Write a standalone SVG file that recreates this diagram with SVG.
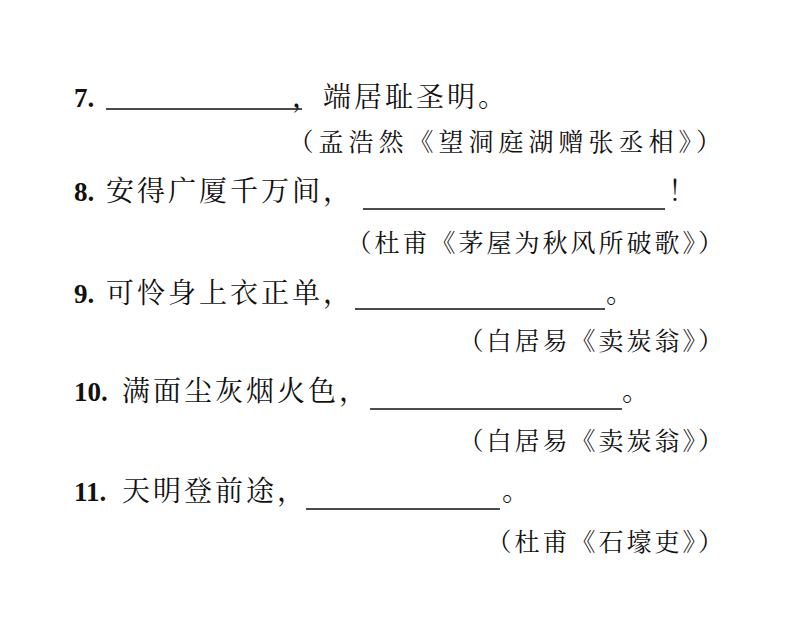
<svg xmlns="http://www.w3.org/2000/svg" width="794" height="644" viewBox="0 0 794 644">
<style>
text{font-family:"Liberation Serif","Noto Serif CJK SC","Noto Sans CJK SC",serif;font-size:28px;fill:#111}
.z{letter-spacing:3px}
.n{font-weight:bold;font-size:27px}
.c{text-anchor:end;font-size:25px;letter-spacing:3px}
line{stroke:#111;stroke-width:1.3}
</style>
<rect width="794" height="644" fill="#fff"/>
<g id="q7"><text class="n" x="74" y="107">7.</text><line x1="106" y1="109" x2="302" y2="109"/><text class="z" x="292" y="107">，端居耻圣明。</text><text class="c" x="726" y="151" style="letter-spacing:5px">（孟浩然《望洞庭湖赠张丞相》）</text></g>
<g id="q8"><text class="n" x="74" y="201">8.</text><text class="z" x="106" y="201">安得广厦千万间，</text><line x1="363" y1="209" x2="665" y2="209"/><text x="668" y="201">！</text><text class="c" x="726" y="252">（杜甫《茅屋为秋风所破歌》）</text></g>
<g id="q9"><text class="n" x="74" y="303">9.</text><text class="z" x="106" y="303">可怜身上衣正单，</text><line x1="355" y1="309" x2="605" y2="309"/><text x="606" y="303">。</text><text class="c" x="726" y="350">（白居易《卖炭翁》）</text></g>
<g id="q10"><text class="n" x="74" y="401">10.</text><text class="z" x="122" y="401">满面尘灰烟火色，</text><line x1="370" y1="409" x2="622" y2="409"/><text x="622" y="401">。</text><text class="c" x="726" y="450">（白居易《卖炭翁》）</text></g>
<g id="q11"><text class="n" x="74" y="501">11.</text><text class="z" x="122" y="501">天明登前途，</text><line x1="306" y1="509" x2="500" y2="509"/><text x="502" y="501">。</text><text class="c" x="726" y="551">（杜甫《石壕吏》）</text></g>
</svg>
